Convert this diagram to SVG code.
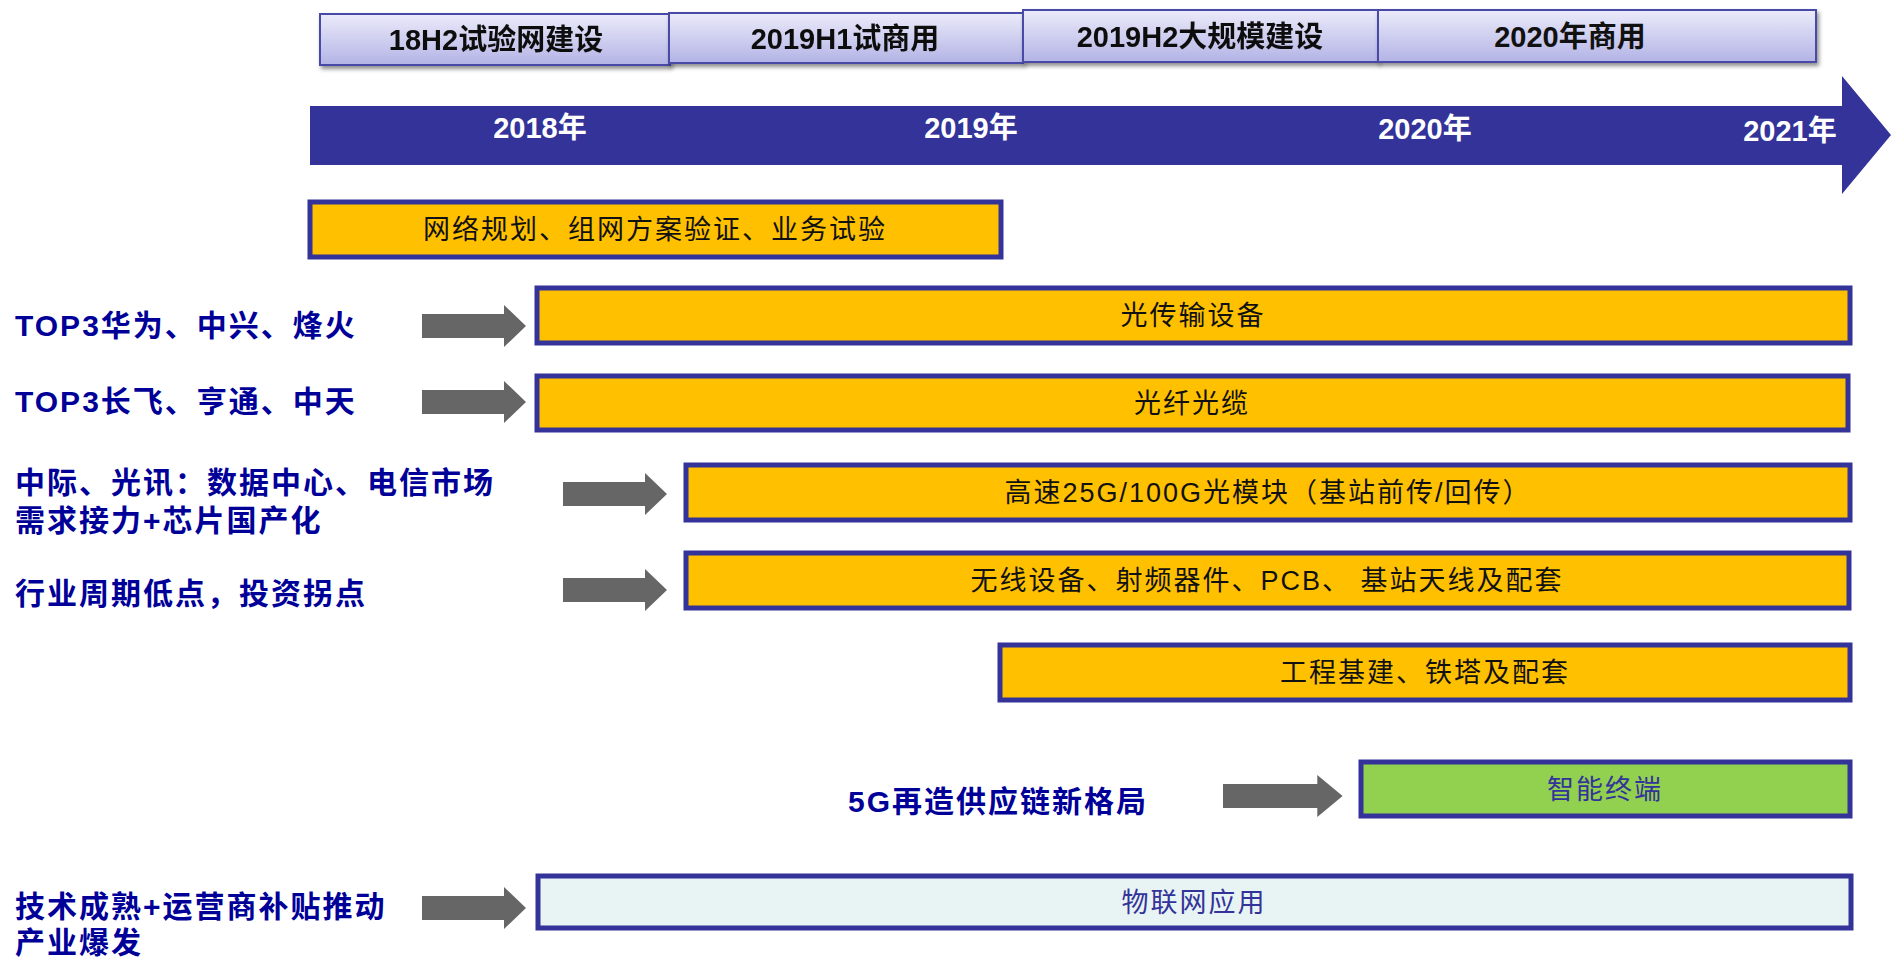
<svg xmlns="http://www.w3.org/2000/svg" width="1891" height="958" viewBox="0 0 1891 958">
<defs>
<linearGradient id="hg" x1="0" y1="0" x2="0" y2="1">
<stop offset="0" stop-color="#EBEBFA"/>
<stop offset="1" stop-color="#B3B3E6"/>
</linearGradient>
<filter id="sh" x="-5%" y="-20%" width="110%" height="150%">
<feDropShadow dx="2" dy="3" stdDeviation="2" flood-color="#000" flood-opacity="0.45"/>
</filter>
<polygon id="garrow" points="0,-12 82,-12 82,-21 104,0 82,21 82,12 0,12" fill="#666666"/>
</defs>
<style>
.hdr{fill:url(#hg);stroke:#4A4AA8;stroke-width:2;}
.htx{font-family:"Liberation Sans","Noto Sans CJK SC",sans-serif;font-weight:bold;font-size:29px;fill:#111;text-anchor:middle;}
.yr{font-family:"Liberation Sans","Noto Sans CJK SC",sans-serif;font-weight:bold;font-size:29px;fill:#fff;text-anchor:middle;}
.bar{fill:#FFC000;stroke:#333399;stroke-width:5;}
.grn{fill:#92D050;stroke:#333399;stroke-width:5;}
.lt{fill:#E8F4F4;stroke:#333399;stroke-width:5;}
.btx{font-family:"Liberation Sans","Noto Sans CJK SC",sans-serif;font-size:27px;fill:#111;text-anchor:middle;letter-spacing:2px;}
.btb{font-family:"Liberation Sans","Noto Sans CJK SC",sans-serif;font-size:27px;fill:#333399;text-anchor:middle;letter-spacing:2px;}
.lab{font-family:"Liberation Sans","Noto Sans CJK SC",sans-serif;font-weight:bold;font-size:30px;fill:#000099;letter-spacing:2px;}
</style>
<g id="phase-18H2" filter="url(#sh)"><rect class="hdr" x="320" y="14" width="350" height="51"/><text class="htx" x="496" y="50">18H2试验网建设</text></g>
<g id="phase-2019H1" filter="url(#sh)"><rect class="hdr" x="669" y="13" width="354" height="50"/><text class="htx" x="845" y="49">2019H1试商用</text></g>
<g id="phase-2019H2" filter="url(#sh)"><rect class="hdr" x="1023" y="10" width="355" height="52"/><text class="htx" x="1200" y="47">2019H2大规模建设</text></g>
<g id="phase-2020"><rect class="hdr" x="1378" y="10" width="438" height="52" filter="url(#sh)"/><text class="htx" x="1570" y="47">2020年商用</text></g>
<g id="timeline">
<polygon points="310,106 1842,106 1842,76 1891,135 1842,194 1842,165 310,165" fill="#333399"/>
<text class="yr" x="540" y="138">2018年</text>
<text class="yr" x="971" y="138">2019年</text>
<text class="yr" x="1425" y="139">2020年</text>
<text class="yr" x="1790" y="141">2021年</text>
</g>
<g id="bar-plan"><rect class="bar" x="310" y="202" width="691" height="55"/><text class="btx" x="655" y="239">网络规划、组网方案验证、业务试验</text></g>
<g id="bar-optical"><rect class="bar" x="537" y="288" width="1313" height="55"/><text class="btx" x="1193" y="325">光传输设备</text></g>
<g id="bar-fiber"><rect class="bar" x="537" y="376" width="1311" height="54"/><text class="btx" x="1192" y="413">光纤光缆</text></g>
<g id="bar-module"><rect class="bar" x="686" y="465" width="1164" height="55"/><text class="btx" x="1268" y="502">高速25G/100G光模块（基站前传/回传）</text></g>
<g id="bar-wireless"><rect class="bar" x="686" y="553" width="1163" height="55"/><text class="btx" x="1267" y="590">无线设备、射频器件、PCB、 基站天线及配套</text></g>
<g id="bar-infra"><rect class="bar" x="1000" y="645" width="850" height="55"/><text class="btx" x="1425" y="682">工程基建、铁塔及配套</text></g>
<g id="bar-terminal"><rect class="grn" x="1361" y="762" width="489" height="54"/><text class="btb" x="1605" y="799">智能终端</text></g>
<g id="bar-iot"><rect class="lt" x="538" y="876" width="1313" height="52"/><text class="btb" x="1194" y="912">物联网应用</text></g>
<g id="label-top3-equip"><text class="lab" x="15" y="336">TOP3华为、中兴、烽火</text></g>
<g id="label-top3-fiber"><text class="lab" x="15" y="412">TOP3长飞、亨通、中天</text></g>
<g id="label-module"><text class="lab" x="15" y="493">中际、光讯：数据中心、电信市场</text><text class="lab" x="15" y="531">需求接力+芯片国产化</text></g>
<g id="label-cycle"><text class="lab" x="15" y="604">行业周期低点，投资拐点</text></g>
<g id="label-5g"><text class="lab" x="848" y="812">5G再造供应链新格局</text></g>
<g id="label-iot"><text class="lab" x="15" y="917">技术成熟+运营商补贴推动</text><text class="lab" x="15" y="953">产业爆发</text></g>
<g id="connectors">
<use href="#garrow" x="422" y="326"/>
<use href="#garrow" x="422" y="402"/>
<use href="#garrow" x="563" y="494"/>
<use href="#garrow" x="563" y="590"/>
<use href="#garrow" x="1223" y="796" transform="translate(1223,796) scale(1.15,1) translate(-1223,-796)"/>
<use href="#garrow" x="422" y="908"/>
</g>
</svg>
